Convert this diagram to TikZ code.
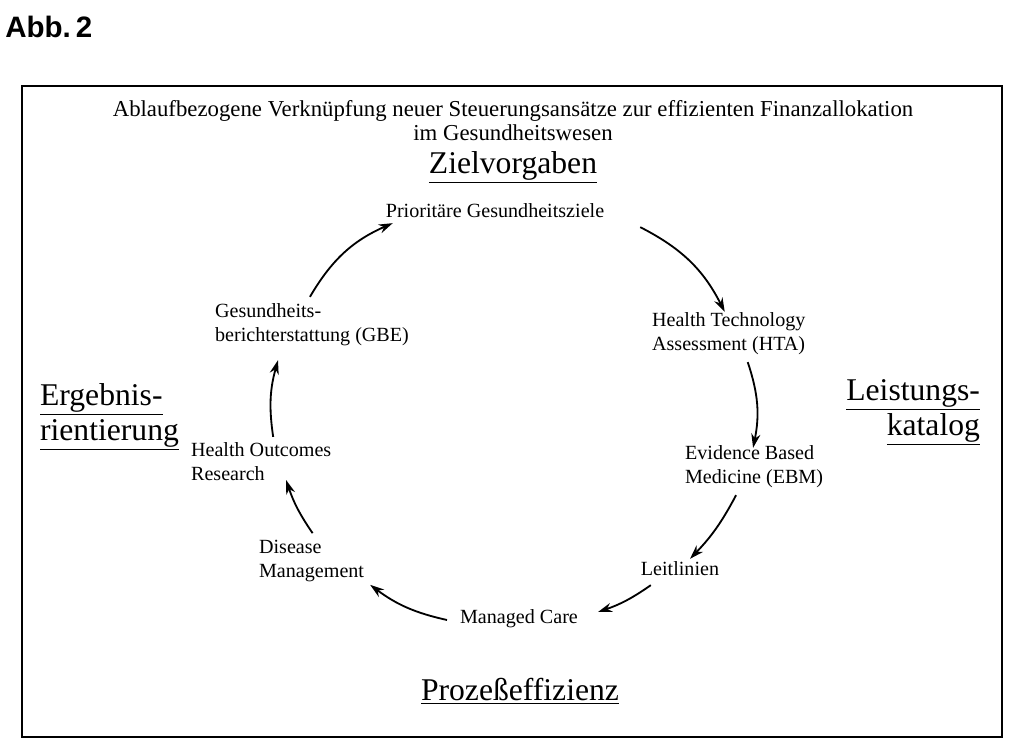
\documentclass[tikz,border=0pt]{standalone}
\usepackage{fontspec}
\setmainfont{Liberation Serif}
\newfontfamily\abbfont{Liberation Sans}
\usetikzlibrary{calc,arrows.meta}

\tikzset{
	step text/.style={font=\fontsize{14.3}{17}\selectfont, inner sep=2pt},
	head text/.style={font=\fontsize{22.5}{25}\selectfont, inner sep=2pt},
	flow/.style={-{Stealth[length=10pt,width=6.5pt]}, line width=1.3pt}
}

\begin{document}
\begin{tikzpicture}[x=0.025cm,y=-0.025cm]
	\useasboundingbox (0,0) rectangle (1024,755);
	\node[anchor=west, inner sep=0pt, font=\abbfont\bfseries\fontsize{21}{24}\selectfont] (abb) at (5,27) {Abb.\,2};
	\draw[line width=2pt] (22,86) rectangle (1002,737);
	\node[align=center, font=\fontsize{16.2}{17}\selectfont] (title) at (513,121)
		{Ablaufbezogene Verknüpfung neuer Steuerungsansätze zur effizienten Finanzallokation\\im Gesundheitswesen};
	% headings
	\node[head text] (ziel) at (513,167) {\underline{Zielvorgaben}};
	\node[head text, align=left, anchor=west] (ergebnis) at (37,417) {\underline{Ergebnis-}\\\underline{rientierung}};
	\node[head text, align=right, anchor=east] (leistung) at (983,412) {\underline{Leistungs-}\\\underline{katalog}};
	\node[head text] (prozess) at (520,691) {\underline{Prozeßeffizienz}};
	% cycle
	\node[step text] (prio) at (495,211) {Prioritäre Gesundheitsziele};
	\node[step text, align=left, anchor=west] (hta) at (649,334) {Health Technology\\Assessment (HTA)};
	\node[step text, align=left, anchor=west] (ebm) at (682,467) {Evidence Based\\Medicine (EBM)};
	\node[step text] (leit) at (680,569) {Leitlinien};
	\node[step text] (mc) at (519,619) {Managed Care};
	\node[step text, align=left, anchor=west] (dm) at (256,561) {Disease\\Management};
	\node[step text, align=left, anchor=west] (hor) at (188,462) {Health Outcomes\\Research};
	\node[step text, align=left, anchor=west] (gbe) at (212,325) {Gesundheits-\\berichterstattung (GBE)};

	\draw[flow] ($(gbe.north)+(-2,-4)$) to[bend left=18] ($(prio.south west)+(10,2)$);
	\draw[flow] ($(prio.south east)+(33,6)$) to[bend left=18] ($(hta.north)+(-4,2)$);
	\draw[flow] ($(hta.south)+(19,4)$) to[bend left=15] ($(ebm.north)+(-1,5)$);
	\draw[flow] ($(ebm.south)+(-18,4)$) to[bend left=8] ($(leit.north)+(10,0)$);
	\draw[flow] ($(leit.south west)+(13,6)$) to[bend left=8] ($(mc.east)+(17,-7)$);
	\draw[flow] ($(mc.west)+(-10,1)$) to[bend left=12] ($(dm.south east)+(3,0)$);
	\draw[flow] ($(dm.north)+(1,-4)$) to[bend left=8] ($(hor.south)+(25,-4)$);
	\draw[flow] ($(hor.north)+(12,-3)$) to[bend left=12] ($(gbe.south west)+(66,11)$);
\end{tikzpicture}
\end{document}
